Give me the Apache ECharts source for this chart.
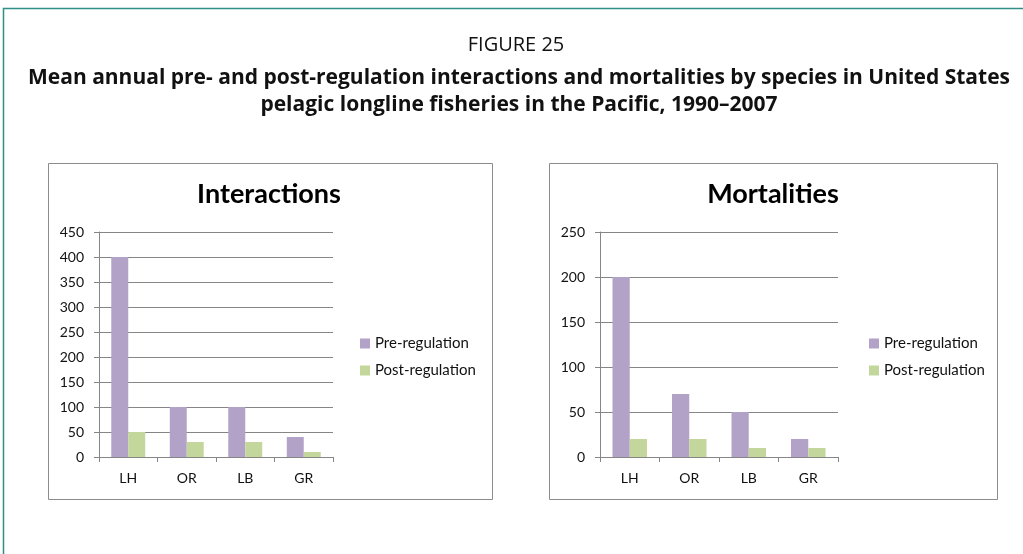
<!DOCTYPE html>
<html>
<head>
<meta charset="utf-8">
<script src="https://cdn.jsdelivr.net/npm/echarts@6/dist/echarts.min.js"></script>
<style>
  html, body { margin: 0; padding: 0; background: #fff; }
  #main { width: 1023px; height: 554px; }
</style>
</head>
<body>
<div id="main"></div>
<script>
// species codes
const species = ['LH', 'OR', 'LB', 'GR'];
const seriesNames = ['Pre-regulation', 'Post-regulation'];
// interactions
const interPre = [400, 100, 100, 40];
const interPost = [50, 30, 30, 10];
// mortalities
const mortPre = [200, 70, 50, 20];
const mortPost = [20, 20, 10, 10];

const purple = '#b2a2c7';
const green = '#c3d69b';
const gridGray = '#868686';
const font = 'Lato, "Open Sans", sans-serif';
const headFont = '"Open Sans", sans-serif';

const chart = echarts.init(document.getElementById('main'));

function yAxis(gridIndex, max) {
  return {
    type: 'value', gridIndex: gridIndex, min: 0, max: max, interval: 50,
    axisLine: { show: true, lineStyle: { color: gridGray } },
    axisTick: { show: true, length: 5, lineStyle: { color: gridGray } },
    splitLine: { lineStyle: { color: gridGray } },
    axisLabel: { color: '#111', fontSize: 14, fontFamily: font, margin: 15 }
  };
}
function xAxis(gridIndex) {
  return {
    type: 'category', gridIndex: gridIndex, data: species,
    axisLine: { lineStyle: { color: gridGray } },
    axisTick: { show: true, length: 5, lineStyle: { color: gridGray } },
    axisLabel: { color: '#111', fontSize: 14, fontFamily: font, margin: 14 }
  };
}
function bar(name, data, idx, color) {
  return {
    name: name, type: 'bar', data: data, xAxisIndex: idx, yAxisIndex: idx,
    barGap: '0%', barCategoryGap: '42%', itemStyle: { color: color }
  };
}
function legend(left) {
  return {
    data: seriesNames, orient: 'vertical', left: left, top: 331, itemWidth: 10, itemHeight: 10,
    itemGap: 12, icon: 'rect', textStyle: { fontSize: 15, color: '#111', fontFamily: font }
  };
}

chart.setOption({
  animation: false,
  graphic: [
    { type: 'rect', shape: { x: 3.5, y: 8.5, width: 1100, height: 600 },
      style: { fill: 'none', stroke: '#2f8f86', lineWidth: 1.5 } },
    { type: 'rect', shape: { x: 48.5, y: 163.5, width: 444, height: 336 },
      style: { fill: 'none', stroke: '#8c8c8c', lineWidth: 1 } },
    { type: 'rect', shape: { x: 549.5, y: 163.5, width: 448, height: 336 },
      style: { fill: 'none', stroke: '#8c8c8c', lineWidth: 1 } }
  ],
  title: [
    { text: 'FIGURE 25', left: 516, top: 35, textAlign: 'center', padding: 0,
      textStyle: { fontSize: 20, fontWeight: 'normal', color: '#111', fontFamily: headFont } },
    { text: 'Mean annual pre- and post-regulation interactions and mortalities by species in United States\npelagic longline fisheries in the Pacific, 1990\u20132007',
      left: 519, top: 65, textAlign: 'center', padding: 0,
      textStyle: { fontSize: 21, fontWeight: 'bold', color: '#111', lineHeight: 27, fontFamily: headFont } },
    { text: 'Interactions', left: 269, top: 181, textAlign: 'center', padding: 0,
      textStyle: { fontSize: 27, fontWeight: 'bold', color: '#000', fontFamily: font } },
    { text: 'Mortalities', left: 773, top: 181, textAlign: 'center', padding: 0,
      textStyle: { fontSize: 27, fontWeight: 'bold', color: '#000', fontFamily: font } }
  ],
  legend: [legend(355), legend(864)],
  grid: [
    { left: 99, right: 690, top: 232, bottom: 97 },
    { left: 600, right: 185, top: 232, bottom: 97 }
  ],
  xAxis: [xAxis(0), xAxis(1)],
  yAxis: [yAxis(0, 450), yAxis(1, 250)],
  series: [
    bar(seriesNames[0], interPre, 0, purple),
    bar(seriesNames[1], interPost, 0, green),
    bar(seriesNames[0], mortPre, 1, purple),
    bar(seriesNames[1], mortPost, 1, green)
  ]
});
</script>
</body>
</html>
